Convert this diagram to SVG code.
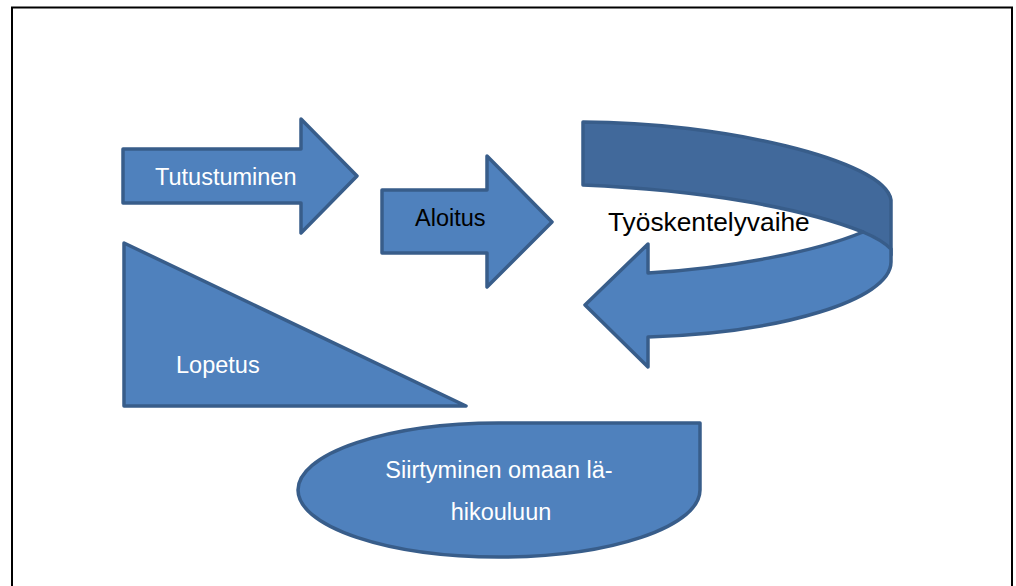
<svg xmlns="http://www.w3.org/2000/svg" width="1016" height="586" viewBox="0 0 1016 586">
<style>
.shape{fill:#4F81BD;stroke:#385D8A;stroke-width:3.5;stroke-linejoin:round}
.back{fill:#41699B;stroke:#385D8A;stroke-width:3.5;stroke-linejoin:round}
.lbl{font-family:"Liberation Sans",Arial,sans-serif;font-size:23.5px;fill:#FFFFFF}
.dark{fill:#000000}
</style>
<rect x="0" y="0" width="1016" height="586" fill="#FFFFFF"/>
<path d="M12,600 L12,7.5 L1012,7.5 L1012,600" fill="none" stroke="#000000" stroke-width="2"/>
<g id="connectors"></g>
<g id="tutustuminen">
<path class="shape" d="M123,149 L301,149 L301,119 L357,176 L301,233 L301,203 L123,203 Z"/>
<text class="lbl" x="155" y="185">Tutustuminen</text>
</g>
<g id="aloitus">
<path class="shape" d="M382,190 L487,190 L487,156 L552,222 L487,287 L487,253 L382,253 Z"/>
<text class="lbl dark" x="415" y="226">Aloitus</text>
</g>
<g id="lopetus">
<path class="shape" d="M124,243 L466,406 L124,406 Z"/>
<text class="lbl" x="176" y="373">Lopetus</text>
</g>
<g id="tyoskentelyvaihe">
<path class="back" d="M583,122 C720,122 885,160 891,200 L891,255 C880,245 870,238 863,232 C800,207 700,190 583,185 Z"/>
<path class="shape" d="M648,273 C730,268 815,252 863,232 C875,237 885,243 891,249 L891,262 C891,300 780,333 648,337 L648,367 L585,305 L648,244 Z"/>
<text x="608" y="231" font-family="Liberation Sans, Arial, sans-serif" font-size="26.3" fill="#000000" stroke="#FFFFFF" stroke-width="2" stroke-opacity="0.6" paint-order="stroke">Työskentelyvaihe</text>
</g>
<g id="siirtyminen">
<path class="shape" d="M298,490 A201,67 0 0 1 499,423 L700,423 L700,490 A201,67 0 0 1 499,557 A201,67 0 0 1 298,490 Z"/>
<text class="lbl" x="499" y="478" text-anchor="middle">Siirtyminen omaan lä-</text>
<text class="lbl" x="501" y="520" text-anchor="middle">hikouluun</text>
</g>
</svg>
